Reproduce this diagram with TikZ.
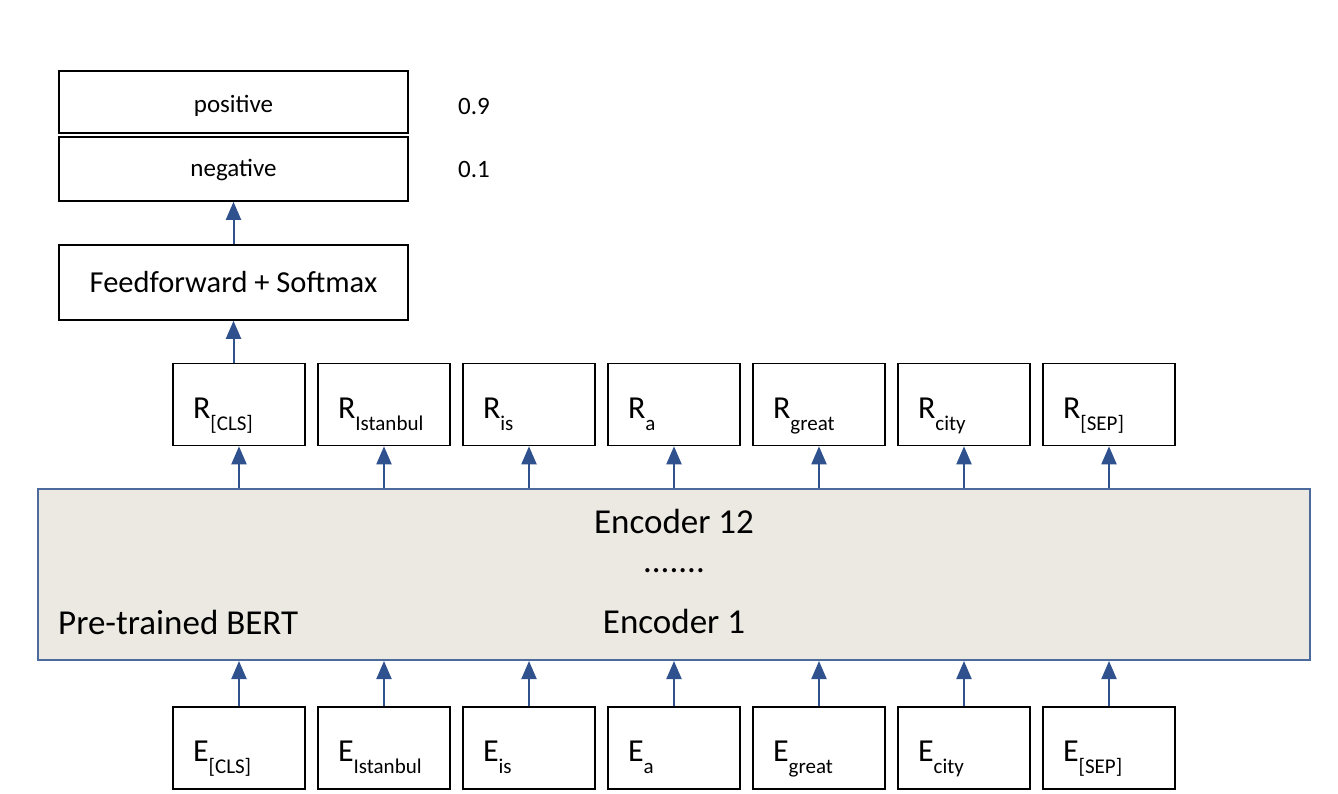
\documentclass[tikz,border=0pt]{standalone}
\usepackage{fontspec}
\setmainfont{Carlito}
\usetikzlibrary{arrows.meta}

\definecolor{encfill}{RGB}{236,233,226}
\definecolor{encdraw}{RGB}{76,106,155}
\definecolor{arrblue}{RGB}{47,82,143}

% token label with a large lowered subscript
\newcommand{\tokname}[2]{{\fontsize{32}{36}\selectfont #1}\raisebox{-12pt}{\fontsize{21}{24}\selectfont #2}}

\begin{document}
\begin{tikzpicture}[x=1pt, y=-1pt,
    box/.style={draw=black, line width=1.6pt, fill=white, inner sep=0pt},
    tokbox/.style={box, minimum width=132pt, minimum height=82pt, text width=92pt, align=left, text height=30pt, text depth=3pt},
    small/.style={font=\fontsize{25}{30}\selectfont},
    big/.style={font=\fontsize{35}{42}\selectfont},
    up/.style={-{Triangle[width=15pt,length=18pt]}, line width=2pt, draw=arrblue, fill=arrblue}]
    \useasboundingbox (0,0) rectangle (1338,794);

    % output classes
    \node (pos) at (233.5,102) [box, small, minimum width=349pt, minimum height=62pt, text height=22pt, text depth=0pt] {positive};
    \node (neg) at (233.5,169) [box, small, minimum width=349pt, minimum height=64pt, text height=15pt, text depth=0pt] {negative};
    \node (p9) at (474,106) [small] {0.9};
    \node (p1) at (474,169) [small] {0.1};

    \node (ff) at (233.5,282.5) [box, font=\fontsize{30.5}{36}\selectfont, minimum width=349pt, minimum height=75pt] {Feedforward + Softmax};

    % BERT block
    \node (enc) at (674,574.5) [draw=encdraw, fill=encfill, line width=2pt, minimum width=1272pt, minimum height=171pt, inner sep=0pt] {};
    \node (enc12) at (674,521) [big] {Encoder 12};
    \node (dots) at (674,572) [big, anchor=base, inner sep=0pt, text height=5pt, text depth=0pt] {.......};
    \node (enc1) at (674,621) [big] {Encoder 1};
    \node (bert) at (58,622) [big, anchor=west, inner sep=0pt] {Pre-trained BERT};

    % token boxes
    \foreach \sub [count=\i] in {{[CLS]},Istanbul,is,a,great,city,{[SEP]}} {
        \node (r\i) at ({239+145*(\i-1)},404.5) [tokbox] {\tokname{R}{\sub}};
        \node (e\i) at ({239+145*(\i-1)},748) [tokbox] {\tokname{E}{\sub}};
    }

    \draw [up] (ff.north) -- (neg.south);
    \draw [up] (r1.north -| ff.south) -- (ff.south);
    \foreach \i in {1,...,7} {
        \draw [up] (enc.north -| r\i.south) -- (r\i.south);
        \draw [up] (e\i.north) -- (e\i.north |- enc.south);
    }
\end{tikzpicture}
\end{document}
